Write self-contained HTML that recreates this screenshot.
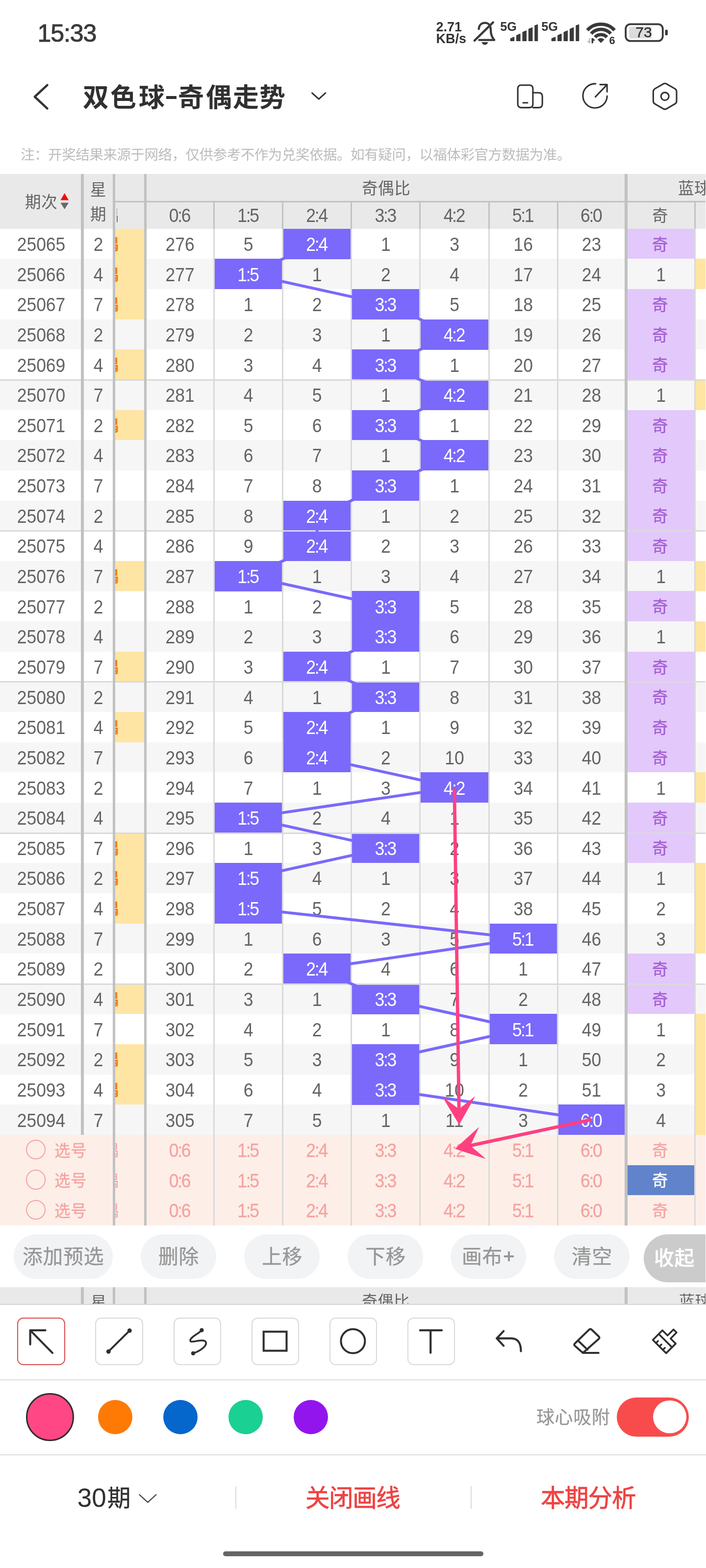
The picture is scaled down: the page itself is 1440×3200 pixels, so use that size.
<!DOCTYPE html>
<html lang="zh"><head><meta charset="utf-8"><title>双色球-奇偶走势</title>
<style>
html,body{margin:0;padding:0;}
body{width:1440px;height:3200px;position:relative;overflow:hidden;background:#fff;font-family:"Liberation Sans",sans-serif;color:#646464;}
.b{position:absolute;}
.k{position:absolute;overflow:visible;display:block;}
.k text{font-family:"Liberation Sans","Noto Sans CJK SC",sans-serif;}
.t{position:absolute;white-space:nowrap;text-align:center;}
.row{position:absolute;left:0;width:1440px;height:61.64px;line-height:61.64px;font-size:35.5px;color:#646464;}
.row i{position:absolute;top:2.2px;transform:scaleY(1.07);height:100%;font-style:normal;text-align:center;white-space:nowrap;}
.ov{position:absolute;left:0;top:0;width:1440px;height:3200px;overflow:visible;pointer-events:none;}
.row b,.t b{font-weight:normal;margin:0 -2.3px;}
#app{position:absolute;left:0;top:0;width:1440px;height:3200px;overflow:hidden;will-change:transform;}
</style></head>
<body>
<div id="app">
<!-- status bar -->
<div class="t" style="left:76.5px;top:43.17px;font-size:50px;line-height:50px;color:#3a3a3a;-webkit-text-stroke:1px #3a3a3a;letter-spacing:-1.1px;">15:33</div>
<div class="t" style="left:889.5px;top:42.34px;font-size:27px;line-height:27px;color:#333;font-weight:bold;">2.71</div>
<div class="t" style="left:889.5px;top:66.14px;font-size:27px;line-height:27px;color:#333;font-weight:bold;">KB/s</div>
<svg class="k" style="left:0px;top:0px;width:1440px;height:120px;" viewBox="0 0 1440 120"><g fill="none" stroke="#3a3a3a" stroke-width="4.4" stroke-linecap="round" stroke-linejoin="round"><path d="M977.5 81.6 H1008.2 C1003.2 76 1001 70.5 1001 62 C1001 51.5 996 46.6 989 46.6 C982 46.6 977.2 51.5 976.6 59"/><path d="M1005.7 45.6 L967.8 82.9"/></g><path d="M982.2 86 H995.6 Q993.5 91.6 988.9 91.6 Q984.3 91.6 982.2 86 Z" fill="#3a3a3a"/></svg>
<div class="t" style="left:1020.3px;top:42.07px;font-size:25.2px;line-height:25.2px;color:#333;font-weight:bold;">5G</div>
<div class="t" style="left:1104.3px;top:42.07px;font-size:25.2px;line-height:25.2px;color:#333;font-weight:bold;">5G</div>
<svg class="k" style="left:0px;top:0px;width:1440px;height:120px;" viewBox="0 0 1440 120"><g fill="#3a3a3a" stroke="#3a3a3a" stroke-width="1.4" stroke-linejoin="round"><path d="M1041.3 83.2 L1041.3 78.8 L1048.5 75.8 L1048.5 83.2 Z"/><path d="M1053.7 83.2 L1053.7 72.3 L1060.9 69.3 L1060.9 83.2 Z"/><path d="M1066.1 83.2 L1066.1 65.8 L1073.3 62.8 L1073.3 83.2 Z"/><path d="M1078.5 83.2 L1078.5 59.4 L1085.7 56.4 L1085.7 83.2 Z"/><path d="M1090.9 83.2 L1090.9 52.5 L1096.5 50.5 L1096.5 83.2 Z"/></g><g fill="#3a3a3a" stroke="#3a3a3a" stroke-width="1.4" stroke-linejoin="round"><path d="M1125.4 83.2 L1125.4 78.8 L1132.6 75.8 L1132.6 83.2 Z"/><path d="M1137.8 83.2 L1137.8 72.3 L1145 69.3 L1145 83.2 Z"/><path d="M1150.2 83.2 L1150.2 65.8 L1157.4 62.8 L1157.4 83.2 Z"/><path d="M1162.6 83.2 L1162.6 59.4 L1169.8 56.4 L1169.8 83.2 Z"/><path d="M1175 83.2 L1175 52.5 L1180.6 50.5 L1180.6 83.2 Z"/></g></svg>
<svg class="k" style="left:0px;top:0px;width:1440px;height:120px;" viewBox="0 0 1440 120"><g fill="none" stroke="#3a3a3a" stroke-width="6.9" stroke-linecap="butt"><path d="M1197.98 61.6 A37.6 37.6 0 0 1 1253.42 61.6"/><path d="M1205.72 68.69 A27.1 27.1 0 0 1 1245.68 68.69"/><path d="M1213.61 75.92 A16.4 16.4 0 0 1 1237.79 75.92"/></g><path d="M1225.7 86.4 L1220.1 80.8 Q1225.7 76.6 1231.3 80.8 Z" fill="#3a3a3a" stroke="#3a3a3a" stroke-width="2" stroke-linejoin="round"/><path d="M1201.4 78 H1203.9 V88.3 H1201.6 L1196.9 83.5 H1201.4 Z" fill="#b9b9b9"/><path d="M1206.6 88.3 V77.8 H1209.4 L1214 82.2 L1210 83.6 V88.3 Z" fill="#3a3a3a"/></svg>
<div class="t" style="left:1242.4px;top:71.75px;font-size:21.8px;line-height:21.8px;color:#333;font-weight:bold;">6</div>
<svg class="k" style="left:0px;top:0px;width:1440px;height:120px;" viewBox="0 0 1440 120"><rect x="1276.2" y="49.4" width="75.6" height="34.2" rx="9.5" fill="#fff" stroke="#3a3a3a" stroke-width="3.8"/><path d="M1286.9 54.4 H1329 V78.4 H1286.9 Q1282.9 78.4 1282.9 74.4 V58.4 Q1282.9 54.4 1286.9 54.4 Z" fill="#dcdcdc"/><rect x="1356.5" y="60.4" width="5.4" height="11.8" rx="2.6" fill="#3a3a3a"/></svg>
<div class="t" style="left:1113px;width:400px;text-align:center;top:51.41px;font-size:30px;line-height:30px;color:#333;-webkit-text-stroke:0.5px #333;">73</div>
<!-- title bar -->
<svg class="k" style="left:0px;top:130px;width:1440px;height:120px;" viewBox="0 130 1440 120"><g fill="none" stroke="#333" stroke-linecap="round" stroke-linejoin="round"><path d="M96.4 173.6 L70.8 197.5 L96.4 221.4" stroke-width="4.6"/><path d="M636.6 189.9 L650.2 202.2 L663.8 189.9" stroke-width="3.1"/><g stroke-width="3.1"><rect x="1056.1" y="173.8" width="30.8" height="45.8" rx="6.5"/><path d="M1066.9 209.7 H1076"/><path d="M1087 189.2 H1098.5 Q1106.2 189.2 1106.2 196.9 V211.9 Q1106.2 219.6 1098.5 219.6 H1087"/><path d="M1214.8 170.9 A24.7 24.7 0 1 0 1238.3 196"/><path d="M1214.4 197.6 L1237.6 173.4 M1224 172.6 H1238.2 V187.2"/><path d="M1352.7 171.3 Q1356.2 169.3 1359.7 171.3 L1376.5 181 Q1380 183 1380 187 V206.2 Q1380 210.2 1376.5 212.2 L1359.7 221.9 Q1356.2 223.9 1352.7 221.9 L1335.9 212.2 Q1332.4 210.2 1332.4 206.2 V187 Q1332.4 183 1335.9 181 Z"/><circle cx="1356.2" cy="196.6" r="8"/></g></g></svg>
<svg class="k" style="left:168.7px;top:171.2px;width:53px;height:53px;fill:#303030;"><text x="0" y="46.64" font-size="53" font-weight="bold">双</text></svg>
<svg class="k" style="left:225.4px;top:171.2px;width:53px;height:53px;fill:#303030;"><text x="0" y="46.64" font-size="53" font-weight="bold">色</text></svg>
<svg class="k" style="left:282.6px;top:171.2px;width:53px;height:53px;fill:#303030;"><text x="0" y="46.64" font-size="53" font-weight="bold">球</text></svg>
<svg class="k" style="left:363.3px;top:171.2px;width:53px;height:53px;fill:#303030;"><text x="0" y="46.64" font-size="53" font-weight="bold">奇</text></svg>
<svg class="k" style="left:419.5px;top:171.2px;width:53px;height:53px;fill:#303030;"><text x="0" y="46.64" font-size="53" font-weight="bold">偶</text></svg>
<svg class="k" style="left:474.5px;top:171.2px;width:53px;height:53px;fill:#303030;"><text x="0" y="46.64" font-size="53" font-weight="bold">走</text></svg>
<svg class="k" style="left:529px;top:171.2px;width:53px;height:53px;fill:#303030;"><text x="0" y="46.64" font-size="53" font-weight="bold">势</text></svg>
<div class="b" style="left:339.3px;top:195.6px;width:20.8px;height:6.2px;background:#303030;"></div>
<svg class="k" style="left:42.3px;top:300.6px;width:1122.55px;height:28.6px;fill:#bcbcbc;"><text x="0" y="25.17" font-size="28.6" letter-spacing="-0.55">注：开奖结果来源于网络，仅供参考不作为兑奖依据。如有疑问，以福体彩官方数据为准。</text></svg>
<!-- table -->
<div class="b" style="left:0px;top:355.2px;width:1440px;height:111.6px;background:#e9e9e9;"></div>
<div class="b" style="left:0px;top:528.44px;width:1440px;height:61.74px;background:#f6f6f6;"></div>
<div class="b" style="left:0px;top:651.72px;width:1440px;height:61.74px;background:#f6f6f6;"></div>
<div class="b" style="left:0px;top:775px;width:1440px;height:61.74px;background:#f6f6f6;"></div>
<div class="b" style="left:0px;top:898.28px;width:1440px;height:61.74px;background:#f6f6f6;"></div>
<div class="b" style="left:0px;top:1021.56px;width:1440px;height:61.74px;background:#f6f6f6;"></div>
<div class="b" style="left:0px;top:1144.84px;width:1440px;height:61.74px;background:#f6f6f6;"></div>
<div class="b" style="left:0px;top:1268.12px;width:1440px;height:61.74px;background:#f6f6f6;"></div>
<div class="b" style="left:0px;top:1391.4px;width:1440px;height:61.74px;background:#f6f6f6;"></div>
<div class="b" style="left:0px;top:1514.68px;width:1440px;height:61.74px;background:#f6f6f6;"></div>
<div class="b" style="left:0px;top:1637.96px;width:1440px;height:61.74px;background:#f6f6f6;"></div>
<div class="b" style="left:0px;top:1761.24px;width:1440px;height:61.74px;background:#f6f6f6;"></div>
<div class="b" style="left:0px;top:1884.52px;width:1440px;height:61.74px;background:#f6f6f6;"></div>
<div class="b" style="left:0px;top:2007.8px;width:1440px;height:61.74px;background:#f6f6f6;"></div>
<div class="b" style="left:0px;top:2131.08px;width:1440px;height:61.74px;background:#f6f6f6;"></div>
<div class="b" style="left:0px;top:2254.36px;width:1440px;height:61.74px;background:#f6f6f6;"></div>
<div class="b" style="left:0px;top:2315.8px;width:1440px;height:184.89px;background:#fdefe8;"></div>
<div class="b" style="left:235px;top:466.8px;width:58.9px;height:184.92px;background:#ffe5a3;"></div>
<div class="b" style="left:235px;top:713.36px;width:58.9px;height:61.64px;background:#ffe5a3;"></div>
<div class="b" style="left:235px;top:836.64px;width:58.9px;height:61.64px;background:#ffe5a3;"></div>
<div class="b" style="left:235px;top:1144.84px;width:58.9px;height:61.64px;background:#ffe5a3;"></div>
<div class="b" style="left:235px;top:1329.76px;width:58.9px;height:61.64px;background:#ffe5a3;"></div>
<div class="b" style="left:235px;top:1453.04px;width:58.9px;height:61.64px;background:#ffe5a3;"></div>
<div class="b" style="left:235px;top:1699.6px;width:58.9px;height:184.92px;background:#ffe5a3;"></div>
<div class="b" style="left:235px;top:2007.8px;width:58.9px;height:61.64px;background:#ffe5a3;"></div>
<div class="b" style="left:235px;top:2131.08px;width:58.9px;height:123.28px;background:#ffe5a3;"></div>
<div class="b" style="left:1418.9px;top:528.44px;width:21.1px;height:61.64px;background:#ffe5a3;"></div>
<div class="b" style="left:1418.9px;top:775px;width:21.1px;height:61.64px;background:#ffe5a3;"></div>
<div class="b" style="left:1418.9px;top:1144.84px;width:21.1px;height:61.64px;background:#ffe5a3;"></div>
<div class="b" style="left:1418.9px;top:1268.12px;width:21.1px;height:61.64px;background:#ffe5a3;"></div>
<div class="b" style="left:1418.9px;top:1576.32px;width:21.1px;height:61.64px;background:#ffe5a3;"></div>
<div class="b" style="left:1418.9px;top:1761.24px;width:21.1px;height:184.92px;background:#ffe5a3;"></div>
<div class="b" style="left:1418.9px;top:2069.44px;width:21.1px;height:246.56px;background:#ffe5a3;"></div>
<div class="b" style="left:1280px;top:466.8px;width:136px;height:61.64px;background:#e3c8fb;"></div>
<div class="b" style="left:1280px;top:590.08px;width:136px;height:184.92px;background:#e3c8fb;"></div>
<div class="b" style="left:1280px;top:836.64px;width:136px;height:308.2px;background:#e3c8fb;"></div>
<div class="b" style="left:1280px;top:1206.48px;width:136px;height:61.64px;background:#e3c8fb;"></div>
<div class="b" style="left:1280px;top:1329.76px;width:136px;height:246.56px;background:#e3c8fb;"></div>
<div class="b" style="left:1280px;top:1637.96px;width:136px;height:123.28px;background:#e3c8fb;"></div>
<div class="b" style="left:1280px;top:1946.16px;width:136px;height:123.28px;background:#e3c8fb;"></div>
<div class="b" style="left:578.16px;top:466.8px;width:137.16px;height:61.79px;background:#7a69fb;"></div>
<div class="b" style="left:438px;top:528.44px;width:137.16px;height:61.79px;background:#7a69fb;"></div>
<div class="b" style="left:718.32px;top:590.08px;width:137.16px;height:61.79px;background:#7a69fb;"></div>
<div class="b" style="left:858.48px;top:651.72px;width:137.16px;height:61.79px;background:#7a69fb;"></div>
<div class="b" style="left:718.32px;top:713.36px;width:137.16px;height:61.79px;background:#7a69fb;"></div>
<div class="b" style="left:858.48px;top:775px;width:137.16px;height:61.79px;background:#7a69fb;"></div>
<div class="b" style="left:718.32px;top:836.64px;width:137.16px;height:61.79px;background:#7a69fb;"></div>
<div class="b" style="left:858.48px;top:898.28px;width:137.16px;height:61.79px;background:#7a69fb;"></div>
<div class="b" style="left:718.32px;top:959.92px;width:137.16px;height:61.79px;background:#7a69fb;"></div>
<div class="b" style="left:578.16px;top:1021.56px;width:137.16px;height:61.79px;background:#7a69fb;"></div>
<div class="b" style="left:578.16px;top:1083.2px;width:137.16px;height:61.79px;background:#7a69fb;"></div>
<div class="b" style="left:438px;top:1144.84px;width:137.16px;height:61.79px;background:#7a69fb;"></div>
<div class="b" style="left:718.32px;top:1206.48px;width:137.16px;height:61.79px;background:#7a69fb;"></div>
<div class="b" style="left:718.32px;top:1268.12px;width:137.16px;height:61.79px;background:#7a69fb;"></div>
<div class="b" style="left:578.16px;top:1329.76px;width:137.16px;height:61.79px;background:#7a69fb;"></div>
<div class="b" style="left:718.32px;top:1391.4px;width:137.16px;height:61.79px;background:#7a69fb;"></div>
<div class="b" style="left:578.16px;top:1453.04px;width:137.16px;height:61.79px;background:#7a69fb;"></div>
<div class="b" style="left:578.16px;top:1514.68px;width:137.16px;height:61.79px;background:#7a69fb;"></div>
<div class="b" style="left:858.48px;top:1576.32px;width:137.16px;height:61.79px;background:#7a69fb;"></div>
<div class="b" style="left:438px;top:1637.96px;width:137.16px;height:61.79px;background:#7a69fb;"></div>
<div class="b" style="left:718.32px;top:1699.6px;width:137.16px;height:61.79px;background:#7a69fb;"></div>
<div class="b" style="left:438px;top:1761.24px;width:137.16px;height:61.79px;background:#7a69fb;"></div>
<div class="b" style="left:438px;top:1822.88px;width:137.16px;height:61.79px;background:#7a69fb;"></div>
<div class="b" style="left:998.64px;top:1884.52px;width:137.16px;height:61.79px;background:#7a69fb;"></div>
<div class="b" style="left:578.16px;top:1946.16px;width:137.16px;height:61.79px;background:#7a69fb;"></div>
<div class="b" style="left:718.32px;top:2007.8px;width:137.16px;height:61.79px;background:#7a69fb;"></div>
<div class="b" style="left:998.64px;top:2069.44px;width:137.16px;height:61.79px;background:#7a69fb;"></div>
<div class="b" style="left:718.32px;top:2131.08px;width:137.16px;height:61.79px;background:#7a69fb;"></div>
<div class="b" style="left:718.32px;top:2192.72px;width:137.16px;height:61.79px;background:#7a69fb;"></div>
<div class="b" style="left:1138.8px;top:2254.36px;width:135.3px;height:61.79px;background:#7a69fb;"></div>
<div class="b" style="left:0px;top:773.9px;width:1440px;height:3px;background:#dadada;"></div>
<div class="b" style="left:0px;top:1082.1px;width:1440px;height:3px;background:#dadada;"></div>
<div class="b" style="left:0px;top:1390.3px;width:1440px;height:3px;background:#dadada;"></div>
<div class="b" style="left:0px;top:1698.5px;width:1440px;height:3px;background:#dadada;"></div>
<div class="b" style="left:0px;top:2006.7px;width:1440px;height:3px;background:#dadada;"></div>
<div class="b" style="left:235px;top:409.8px;width:1205px;height:2.8px;background:#c1c1c1;"></div>
<div class="b" style="left:435px;top:411.2px;width:3px;height:55.6px;background:#c2c2c2;"></div>
<div class="b" style="left:435px;top:466.8px;width:3px;height:2033.89px;background:#dadada;"></div>
<div class="b" style="left:575.16px;top:411.2px;width:3px;height:55.6px;background:#c2c2c2;"></div>
<div class="b" style="left:575.16px;top:466.8px;width:3px;height:2033.89px;background:#dadada;"></div>
<div class="b" style="left:715.32px;top:411.2px;width:3px;height:55.6px;background:#c2c2c2;"></div>
<div class="b" style="left:715.32px;top:466.8px;width:3px;height:2033.89px;background:#dadada;"></div>
<div class="b" style="left:855.48px;top:411.2px;width:3px;height:55.6px;background:#c2c2c2;"></div>
<div class="b" style="left:855.48px;top:466.8px;width:3px;height:2033.89px;background:#dadada;"></div>
<div class="b" style="left:995.64px;top:411.2px;width:3px;height:55.6px;background:#c2c2c2;"></div>
<div class="b" style="left:995.64px;top:466.8px;width:3px;height:2033.89px;background:#dadada;"></div>
<div class="b" style="left:1135.8px;top:411.2px;width:3px;height:55.6px;background:#c2c2c2;"></div>
<div class="b" style="left:1135.8px;top:466.8px;width:3px;height:2033.89px;background:#dadada;"></div>
<div class="b" style="left:1416px;top:411.2px;width:2.9px;height:55.6px;background:#c2c2c2;"></div>
<div class="b" style="left:1416px;top:466.8px;width:2.9px;height:2033.89px;background:#dadada;"></div>
<div class="b" style="left:578.16px;top:1082.1px;width:137.16px;height:3px;background:#dad6fb;"></div>
<svg class="k" style="left:51.2px;top:395px;width:65.8px;height:32.6px;fill:#646464;"><text x="0" y="28.69" font-size="32.6" letter-spacing="0.6">期次</text></svg>
<svg class="k" style="left:122px;top:394px;width:20px;height:36px" viewBox="0 0 20 36"><path d="M9.7 0.2 L18.1 14.4 H1.4 Z" fill="#fb0505"/><path d="M9.7 33 L18.1 19.7 H1.4 Z" fill="#686868"/></svg>
<svg class="k" style="left:183.7px;top:369.5px;width:32.6px;height:32.6px;fill:#646464;"><text x="0" y="28.69" font-size="32.6">星</text></svg>
<svg class="k" style="left:183.9px;top:420px;width:32.6px;height:32.6px;fill:#646464;"><text x="0" y="28.69" font-size="32.6">期</text></svg>
<svg class="k" style="left:737.65px;top:367.05px;width:98.7px;height:32.5px;fill:#646464;"><text x="0" y="28.6" font-size="32.5" letter-spacing="0.6">奇偶比</text></svg>
<svg class="k" style="left:1383.3px;top:367.05px;width:65.6px;height:32.5px;fill:#646464;"><text x="0" y="28.6" font-size="32.5" letter-spacing="0.6">蓝球</text></svg>
<svg class="k" style="left:1330.35px;top:422.95px;width:32.5px;height:32.5px;fill:#646464;"><text x="0" y="28.6" font-size="32.5">奇</text></svg>
<div class="b" style="left:238.2px;top:412.6px;width:20px;height:54.2px;overflow:hidden"><svg class="k" style="left:-27.8px;top:10.6px;width:32px;height:32px;fill:#787878;"><text x="0" y="28.16" font-size="32">偶</text></svg></div>
<div class="row" style="top:410.9px;height:54.2px;line-height:54.2px;font-size:35.5px"><i style="left:299.35px;width:135.65px">0<b>:</b>6</i><i style="left:438px;width:137.16px">1<b>:</b>5</i><i style="left:578.16px;width:137.16px">2<b>:</b>4</i><i style="left:718.32px;width:137.16px">3<b>:</b>3</i><i style="left:858.48px;width:137.16px">4<b>:</b>2</i><i style="left:998.64px;width:137.16px">5<b>:</b>1</i><i style="left:1138.8px;width:135.3px">6<b>:</b>0</i></div>
<div class="row" style="top:466.8px"><i style="left:1px;width:166px">25065</i><i style="left:171px;width:59px">2</i><i style="left:299.35px;width:135.65px">276</i><i style="left:438px;width:137.16px">5</i><i style="left:718.32px;width:137.16px">1</i><i style="left:858.48px;width:137.16px">3</i><i style="left:998.64px;width:137.16px">16</i><i style="left:1138.8px;width:135.3px">23</i></div>
<svg class="k" style="left:1330.35px;top:481.67px;width:32.5px;height:32.5px;fill:#a25cd2;stroke:#a25cd2;stroke-width:0.26;"><text x="0" y="28.6" font-size="32.5">奇</text></svg>
<div class="b" style="left:235px;top:466.8px;width:58.9px;height:61.64px;overflow:hidden"><svg class="k" style="left:-25px;top:15.12px;width:32px;height:32px;fill:#f07d1a;"><text x="0" y="28.16" font-size="32" font-weight="bold">偶</text></svg></div>
<div class="row" style="top:528.44px"><i style="left:1px;width:166px">25066</i><i style="left:171px;width:59px">4</i><i style="left:299.35px;width:135.65px">277</i><i style="left:578.16px;width:137.16px">1</i><i style="left:718.32px;width:137.16px">2</i><i style="left:858.48px;width:137.16px">4</i><i style="left:998.64px;width:137.16px">17</i><i style="left:1138.8px;width:135.3px">24</i><i style="left:1280px;width:136px">1</i></div>
<div class="b" style="left:235px;top:528.44px;width:58.9px;height:61.64px;overflow:hidden"><svg class="k" style="left:-25px;top:15.12px;width:32px;height:32px;fill:#f07d1a;"><text x="0" y="28.16" font-size="32" font-weight="bold">偶</text></svg></div>
<div class="row" style="top:590.08px"><i style="left:1px;width:166px">25067</i><i style="left:171px;width:59px">7</i><i style="left:299.35px;width:135.65px">278</i><i style="left:438px;width:137.16px">1</i><i style="left:578.16px;width:137.16px">2</i><i style="left:858.48px;width:137.16px">5</i><i style="left:998.64px;width:137.16px">18</i><i style="left:1138.8px;width:135.3px">25</i></div>
<svg class="k" style="left:1330.35px;top:604.95px;width:32.5px;height:32.5px;fill:#a25cd2;stroke:#a25cd2;stroke-width:0.26;"><text x="0" y="28.6" font-size="32.5">奇</text></svg>
<div class="b" style="left:235px;top:590.08px;width:58.9px;height:61.64px;overflow:hidden"><svg class="k" style="left:-25px;top:15.12px;width:32px;height:32px;fill:#f07d1a;"><text x="0" y="28.16" font-size="32" font-weight="bold">偶</text></svg></div>
<div class="row" style="top:651.72px"><i style="left:1px;width:166px">25068</i><i style="left:171px;width:59px">2</i><i style="left:299.35px;width:135.65px">279</i><i style="left:438px;width:137.16px">2</i><i style="left:578.16px;width:137.16px">3</i><i style="left:718.32px;width:137.16px">1</i><i style="left:998.64px;width:137.16px">19</i><i style="left:1138.8px;width:135.3px">26</i></div>
<svg class="k" style="left:1330.35px;top:666.59px;width:32.5px;height:32.5px;fill:#a25cd2;stroke:#a25cd2;stroke-width:0.26;"><text x="0" y="28.6" font-size="32.5">奇</text></svg>
<div class="row" style="top:713.36px"><i style="left:1px;width:166px">25069</i><i style="left:171px;width:59px">4</i><i style="left:299.35px;width:135.65px">280</i><i style="left:438px;width:137.16px">3</i><i style="left:578.16px;width:137.16px">4</i><i style="left:858.48px;width:137.16px">1</i><i style="left:998.64px;width:137.16px">20</i><i style="left:1138.8px;width:135.3px">27</i></div>
<svg class="k" style="left:1330.35px;top:728.23px;width:32.5px;height:32.5px;fill:#a25cd2;stroke:#a25cd2;stroke-width:0.26;"><text x="0" y="28.6" font-size="32.5">奇</text></svg>
<div class="b" style="left:235px;top:713.36px;width:58.9px;height:61.64px;overflow:hidden"><svg class="k" style="left:-25px;top:15.12px;width:32px;height:32px;fill:#f07d1a;"><text x="0" y="28.16" font-size="32" font-weight="bold">偶</text></svg></div>
<div class="row" style="top:775px"><i style="left:1px;width:166px">25070</i><i style="left:171px;width:59px">7</i><i style="left:299.35px;width:135.65px">281</i><i style="left:438px;width:137.16px">4</i><i style="left:578.16px;width:137.16px">5</i><i style="left:718.32px;width:137.16px">1</i><i style="left:998.64px;width:137.16px">21</i><i style="left:1138.8px;width:135.3px">28</i><i style="left:1280px;width:136px">1</i></div>
<div class="row" style="top:836.64px"><i style="left:1px;width:166px">25071</i><i style="left:171px;width:59px">2</i><i style="left:299.35px;width:135.65px">282</i><i style="left:438px;width:137.16px">5</i><i style="left:578.16px;width:137.16px">6</i><i style="left:858.48px;width:137.16px">1</i><i style="left:998.64px;width:137.16px">22</i><i style="left:1138.8px;width:135.3px">29</i></div>
<svg class="k" style="left:1330.35px;top:851.51px;width:32.5px;height:32.5px;fill:#a25cd2;stroke:#a25cd2;stroke-width:0.26;"><text x="0" y="28.6" font-size="32.5">奇</text></svg>
<div class="b" style="left:235px;top:836.64px;width:58.9px;height:61.64px;overflow:hidden"><svg class="k" style="left:-25px;top:15.12px;width:32px;height:32px;fill:#f07d1a;"><text x="0" y="28.16" font-size="32" font-weight="bold">偶</text></svg></div>
<div class="row" style="top:898.28px"><i style="left:1px;width:166px">25072</i><i style="left:171px;width:59px">4</i><i style="left:299.35px;width:135.65px">283</i><i style="left:438px;width:137.16px">6</i><i style="left:578.16px;width:137.16px">7</i><i style="left:718.32px;width:137.16px">1</i><i style="left:998.64px;width:137.16px">23</i><i style="left:1138.8px;width:135.3px">30</i></div>
<svg class="k" style="left:1330.35px;top:913.15px;width:32.5px;height:32.5px;fill:#a25cd2;stroke:#a25cd2;stroke-width:0.26;"><text x="0" y="28.6" font-size="32.5">奇</text></svg>
<div class="row" style="top:959.92px"><i style="left:1px;width:166px">25073</i><i style="left:171px;width:59px">7</i><i style="left:299.35px;width:135.65px">284</i><i style="left:438px;width:137.16px">7</i><i style="left:578.16px;width:137.16px">8</i><i style="left:858.48px;width:137.16px">1</i><i style="left:998.64px;width:137.16px">24</i><i style="left:1138.8px;width:135.3px">31</i></div>
<svg class="k" style="left:1330.35px;top:974.79px;width:32.5px;height:32.5px;fill:#a25cd2;stroke:#a25cd2;stroke-width:0.26;"><text x="0" y="28.6" font-size="32.5">奇</text></svg>
<div class="row" style="top:1021.56px"><i style="left:1px;width:166px">25074</i><i style="left:171px;width:59px">2</i><i style="left:299.35px;width:135.65px">285</i><i style="left:438px;width:137.16px">8</i><i style="left:718.32px;width:137.16px">1</i><i style="left:858.48px;width:137.16px">2</i><i style="left:998.64px;width:137.16px">25</i><i style="left:1138.8px;width:135.3px">32</i></div>
<svg class="k" style="left:1330.35px;top:1036.43px;width:32.5px;height:32.5px;fill:#a25cd2;stroke:#a25cd2;stroke-width:0.26;"><text x="0" y="28.6" font-size="32.5">奇</text></svg>
<div class="row" style="top:1083.2px"><i style="left:1px;width:166px">25075</i><i style="left:171px;width:59px">4</i><i style="left:299.35px;width:135.65px">286</i><i style="left:438px;width:137.16px">9</i><i style="left:718.32px;width:137.16px">2</i><i style="left:858.48px;width:137.16px">3</i><i style="left:998.64px;width:137.16px">26</i><i style="left:1138.8px;width:135.3px">33</i></div>
<svg class="k" style="left:1330.35px;top:1098.07px;width:32.5px;height:32.5px;fill:#a25cd2;stroke:#a25cd2;stroke-width:0.26;"><text x="0" y="28.6" font-size="32.5">奇</text></svg>
<div class="row" style="top:1144.84px"><i style="left:1px;width:166px">25076</i><i style="left:171px;width:59px">7</i><i style="left:299.35px;width:135.65px">287</i><i style="left:578.16px;width:137.16px">1</i><i style="left:718.32px;width:137.16px">3</i><i style="left:858.48px;width:137.16px">4</i><i style="left:998.64px;width:137.16px">27</i><i style="left:1138.8px;width:135.3px">34</i><i style="left:1280px;width:136px">1</i></div>
<div class="b" style="left:235px;top:1144.84px;width:58.9px;height:61.64px;overflow:hidden"><svg class="k" style="left:-25px;top:15.12px;width:32px;height:32px;fill:#f07d1a;"><text x="0" y="28.16" font-size="32" font-weight="bold">偶</text></svg></div>
<div class="row" style="top:1206.48px"><i style="left:1px;width:166px">25077</i><i style="left:171px;width:59px">2</i><i style="left:299.35px;width:135.65px">288</i><i style="left:438px;width:137.16px">1</i><i style="left:578.16px;width:137.16px">2</i><i style="left:858.48px;width:137.16px">5</i><i style="left:998.64px;width:137.16px">28</i><i style="left:1138.8px;width:135.3px">35</i></div>
<svg class="k" style="left:1330.35px;top:1221.35px;width:32.5px;height:32.5px;fill:#a25cd2;stroke:#a25cd2;stroke-width:0.26;"><text x="0" y="28.6" font-size="32.5">奇</text></svg>
<div class="row" style="top:1268.12px"><i style="left:1px;width:166px">25078</i><i style="left:171px;width:59px">4</i><i style="left:299.35px;width:135.65px">289</i><i style="left:438px;width:137.16px">2</i><i style="left:578.16px;width:137.16px">3</i><i style="left:858.48px;width:137.16px">6</i><i style="left:998.64px;width:137.16px">29</i><i style="left:1138.8px;width:135.3px">36</i><i style="left:1280px;width:136px">1</i></div>
<div class="row" style="top:1329.76px"><i style="left:1px;width:166px">25079</i><i style="left:171px;width:59px">7</i><i style="left:299.35px;width:135.65px">290</i><i style="left:438px;width:137.16px">3</i><i style="left:718.32px;width:137.16px">1</i><i style="left:858.48px;width:137.16px">7</i><i style="left:998.64px;width:137.16px">30</i><i style="left:1138.8px;width:135.3px">37</i></div>
<svg class="k" style="left:1330.35px;top:1344.63px;width:32.5px;height:32.5px;fill:#a25cd2;stroke:#a25cd2;stroke-width:0.26;"><text x="0" y="28.6" font-size="32.5">奇</text></svg>
<div class="b" style="left:235px;top:1329.76px;width:58.9px;height:61.64px;overflow:hidden"><svg class="k" style="left:-25px;top:15.12px;width:32px;height:32px;fill:#f07d1a;"><text x="0" y="28.16" font-size="32" font-weight="bold">偶</text></svg></div>
<div class="row" style="top:1391.4px"><i style="left:1px;width:166px">25080</i><i style="left:171px;width:59px">2</i><i style="left:299.35px;width:135.65px">291</i><i style="left:438px;width:137.16px">4</i><i style="left:578.16px;width:137.16px">1</i><i style="left:858.48px;width:137.16px">8</i><i style="left:998.64px;width:137.16px">31</i><i style="left:1138.8px;width:135.3px">38</i></div>
<svg class="k" style="left:1330.35px;top:1406.27px;width:32.5px;height:32.5px;fill:#a25cd2;stroke:#a25cd2;stroke-width:0.26;"><text x="0" y="28.6" font-size="32.5">奇</text></svg>
<div class="row" style="top:1453.04px"><i style="left:1px;width:166px">25081</i><i style="left:171px;width:59px">4</i><i style="left:299.35px;width:135.65px">292</i><i style="left:438px;width:137.16px">5</i><i style="left:718.32px;width:137.16px">1</i><i style="left:858.48px;width:137.16px">9</i><i style="left:998.64px;width:137.16px">32</i><i style="left:1138.8px;width:135.3px">39</i></div>
<svg class="k" style="left:1330.35px;top:1467.91px;width:32.5px;height:32.5px;fill:#a25cd2;stroke:#a25cd2;stroke-width:0.26;"><text x="0" y="28.6" font-size="32.5">奇</text></svg>
<div class="b" style="left:235px;top:1453.04px;width:58.9px;height:61.64px;overflow:hidden"><svg class="k" style="left:-25px;top:15.12px;width:32px;height:32px;fill:#f07d1a;"><text x="0" y="28.16" font-size="32" font-weight="bold">偶</text></svg></div>
<div class="row" style="top:1514.68px"><i style="left:1px;width:166px">25082</i><i style="left:171px;width:59px">7</i><i style="left:299.35px;width:135.65px">293</i><i style="left:438px;width:137.16px">6</i><i style="left:718.32px;width:137.16px">2</i><i style="left:858.48px;width:137.16px">10</i><i style="left:998.64px;width:137.16px">33</i><i style="left:1138.8px;width:135.3px">40</i></div>
<svg class="k" style="left:1330.35px;top:1529.55px;width:32.5px;height:32.5px;fill:#a25cd2;stroke:#a25cd2;stroke-width:0.26;"><text x="0" y="28.6" font-size="32.5">奇</text></svg>
<div class="row" style="top:1576.32px"><i style="left:1px;width:166px">25083</i><i style="left:171px;width:59px">2</i><i style="left:299.35px;width:135.65px">294</i><i style="left:438px;width:137.16px">7</i><i style="left:578.16px;width:137.16px">1</i><i style="left:718.32px;width:137.16px">3</i><i style="left:998.64px;width:137.16px">34</i><i style="left:1138.8px;width:135.3px">41</i><i style="left:1280px;width:136px">1</i></div>
<div class="row" style="top:1637.96px"><i style="left:1px;width:166px">25084</i><i style="left:171px;width:59px">4</i><i style="left:299.35px;width:135.65px">295</i><i style="left:578.16px;width:137.16px">2</i><i style="left:718.32px;width:137.16px">4</i><i style="left:858.48px;width:137.16px">1</i><i style="left:998.64px;width:137.16px">35</i><i style="left:1138.8px;width:135.3px">42</i></div>
<svg class="k" style="left:1330.35px;top:1652.83px;width:32.5px;height:32.5px;fill:#a25cd2;stroke:#a25cd2;stroke-width:0.26;"><text x="0" y="28.6" font-size="32.5">奇</text></svg>
<div class="row" style="top:1699.6px"><i style="left:1px;width:166px">25085</i><i style="left:171px;width:59px">7</i><i style="left:299.35px;width:135.65px">296</i><i style="left:438px;width:137.16px">1</i><i style="left:578.16px;width:137.16px">3</i><i style="left:858.48px;width:137.16px">2</i><i style="left:998.64px;width:137.16px">36</i><i style="left:1138.8px;width:135.3px">43</i></div>
<svg class="k" style="left:1330.35px;top:1714.47px;width:32.5px;height:32.5px;fill:#a25cd2;stroke:#a25cd2;stroke-width:0.26;"><text x="0" y="28.6" font-size="32.5">奇</text></svg>
<div class="b" style="left:235px;top:1699.6px;width:58.9px;height:61.64px;overflow:hidden"><svg class="k" style="left:-25px;top:15.12px;width:32px;height:32px;fill:#f07d1a;"><text x="0" y="28.16" font-size="32" font-weight="bold">偶</text></svg></div>
<div class="row" style="top:1761.24px"><i style="left:1px;width:166px">25086</i><i style="left:171px;width:59px">2</i><i style="left:299.35px;width:135.65px">297</i><i style="left:578.16px;width:137.16px">4</i><i style="left:718.32px;width:137.16px">1</i><i style="left:858.48px;width:137.16px">3</i><i style="left:998.64px;width:137.16px">37</i><i style="left:1138.8px;width:135.3px">44</i><i style="left:1280px;width:136px">1</i></div>
<div class="b" style="left:235px;top:1761.24px;width:58.9px;height:61.64px;overflow:hidden"><svg class="k" style="left:-25px;top:15.12px;width:32px;height:32px;fill:#f07d1a;"><text x="0" y="28.16" font-size="32" font-weight="bold">偶</text></svg></div>
<div class="row" style="top:1822.88px"><i style="left:1px;width:166px">25087</i><i style="left:171px;width:59px">4</i><i style="left:299.35px;width:135.65px">298</i><i style="left:578.16px;width:137.16px">5</i><i style="left:718.32px;width:137.16px">2</i><i style="left:858.48px;width:137.16px">4</i><i style="left:998.64px;width:137.16px">38</i><i style="left:1138.8px;width:135.3px">45</i><i style="left:1280px;width:136px">2</i></div>
<div class="b" style="left:235px;top:1822.88px;width:58.9px;height:61.64px;overflow:hidden"><svg class="k" style="left:-25px;top:15.12px;width:32px;height:32px;fill:#f07d1a;"><text x="0" y="28.16" font-size="32" font-weight="bold">偶</text></svg></div>
<div class="row" style="top:1884.52px"><i style="left:1px;width:166px">25088</i><i style="left:171px;width:59px">7</i><i style="left:299.35px;width:135.65px">299</i><i style="left:438px;width:137.16px">1</i><i style="left:578.16px;width:137.16px">6</i><i style="left:718.32px;width:137.16px">3</i><i style="left:858.48px;width:137.16px">5</i><i style="left:1138.8px;width:135.3px">46</i><i style="left:1280px;width:136px">3</i></div>
<div class="row" style="top:1946.16px"><i style="left:1px;width:166px">25089</i><i style="left:171px;width:59px">2</i><i style="left:299.35px;width:135.65px">300</i><i style="left:438px;width:137.16px">2</i><i style="left:718.32px;width:137.16px">4</i><i style="left:858.48px;width:137.16px">6</i><i style="left:998.64px;width:137.16px">1</i><i style="left:1138.8px;width:135.3px">47</i></div>
<svg class="k" style="left:1330.35px;top:1961.03px;width:32.5px;height:32.5px;fill:#a25cd2;stroke:#a25cd2;stroke-width:0.26;"><text x="0" y="28.6" font-size="32.5">奇</text></svg>
<div class="row" style="top:2007.8px"><i style="left:1px;width:166px">25090</i><i style="left:171px;width:59px">4</i><i style="left:299.35px;width:135.65px">301</i><i style="left:438px;width:137.16px">3</i><i style="left:578.16px;width:137.16px">1</i><i style="left:858.48px;width:137.16px">7</i><i style="left:998.64px;width:137.16px">2</i><i style="left:1138.8px;width:135.3px">48</i></div>
<svg class="k" style="left:1330.35px;top:2022.67px;width:32.5px;height:32.5px;fill:#a25cd2;stroke:#a25cd2;stroke-width:0.26;"><text x="0" y="28.6" font-size="32.5">奇</text></svg>
<div class="b" style="left:235px;top:2007.8px;width:58.9px;height:61.64px;overflow:hidden"><svg class="k" style="left:-25px;top:15.12px;width:32px;height:32px;fill:#f07d1a;"><text x="0" y="28.16" font-size="32" font-weight="bold">偶</text></svg></div>
<div class="row" style="top:2069.44px"><i style="left:1px;width:166px">25091</i><i style="left:171px;width:59px">7</i><i style="left:299.35px;width:135.65px">302</i><i style="left:438px;width:137.16px">4</i><i style="left:578.16px;width:137.16px">2</i><i style="left:718.32px;width:137.16px">1</i><i style="left:858.48px;width:137.16px">8</i><i style="left:1138.8px;width:135.3px">49</i><i style="left:1280px;width:136px">1</i></div>
<div class="row" style="top:2131.08px"><i style="left:1px;width:166px">25092</i><i style="left:171px;width:59px">2</i><i style="left:299.35px;width:135.65px">303</i><i style="left:438px;width:137.16px">5</i><i style="left:578.16px;width:137.16px">3</i><i style="left:858.48px;width:137.16px">9</i><i style="left:998.64px;width:137.16px">1</i><i style="left:1138.8px;width:135.3px">50</i><i style="left:1280px;width:136px">2</i></div>
<div class="b" style="left:235px;top:2131.08px;width:58.9px;height:61.64px;overflow:hidden"><svg class="k" style="left:-25px;top:15.12px;width:32px;height:32px;fill:#f07d1a;"><text x="0" y="28.16" font-size="32" font-weight="bold">偶</text></svg></div>
<div class="row" style="top:2192.72px"><i style="left:1px;width:166px">25093</i><i style="left:171px;width:59px">4</i><i style="left:299.35px;width:135.65px">304</i><i style="left:438px;width:137.16px">6</i><i style="left:578.16px;width:137.16px">4</i><i style="left:858.48px;width:137.16px">10</i><i style="left:998.64px;width:137.16px">2</i><i style="left:1138.8px;width:135.3px">51</i><i style="left:1280px;width:136px">3</i></div>
<div class="b" style="left:235px;top:2192.72px;width:58.9px;height:61.64px;overflow:hidden"><svg class="k" style="left:-25px;top:15.12px;width:32px;height:32px;fill:#f07d1a;"><text x="0" y="28.16" font-size="32" font-weight="bold">偶</text></svg></div>
<div class="row" style="top:2254.36px"><i style="left:1px;width:166px">25094</i><i style="left:171px;width:59px">7</i><i style="left:299.35px;width:135.65px">305</i><i style="left:438px;width:137.16px">7</i><i style="left:578.16px;width:137.16px">5</i><i style="left:718.32px;width:137.16px">1</i><i style="left:858.48px;width:137.16px">11</i><i style="left:998.64px;width:137.16px">3</i><i style="left:1280px;width:136px">4</i></div>
<svg class="ov" viewBox="0 0 1440 3200"><path d="M646.74 497.62 L506.58 559.26 L786.9 620.9 L927.06 682.54 L786.9 744.18 L927.06 805.82 L786.9 867.46 L927.06 929.1 L786.9 990.74 L646.74 1052.38 L646.74 1114.02 L506.58 1175.66 L786.9 1237.3 L786.9 1298.94 L646.74 1360.58 L786.9 1422.22 L646.74 1483.86 L646.74 1545.5 L927.06 1607.14 L506.58 1668.78 L786.9 1730.42 L506.58 1792.06 L506.58 1853.7 L1067.22 1915.34 L646.74 1976.98 L786.9 2038.62 L1067.22 2100.26 L786.9 2161.9 L786.9 2223.54 L1206.45 2285.18" fill="none" stroke="#7a69fb" stroke-width="5.8" stroke-linejoin="round"/></svg>
<div class="t" style="left:578.16px;top:469px;width:137.16px;height:61.64px;line-height:61.64px;font-size:35.5px;color:#fff;transform:scaleY(1.07)">2<b>:</b>4</div>
<div class="t" style="left:438px;top:530.64px;width:137.16px;height:61.64px;line-height:61.64px;font-size:35.5px;color:#fff;transform:scaleY(1.07)">1<b>:</b>5</div>
<div class="t" style="left:718.32px;top:592.28px;width:137.16px;height:61.64px;line-height:61.64px;font-size:35.5px;color:#fff;transform:scaleY(1.07)">3<b>:</b>3</div>
<div class="t" style="left:858.48px;top:653.92px;width:137.16px;height:61.64px;line-height:61.64px;font-size:35.5px;color:#fff;transform:scaleY(1.07)">4<b>:</b>2</div>
<div class="t" style="left:718.32px;top:715.56px;width:137.16px;height:61.64px;line-height:61.64px;font-size:35.5px;color:#fff;transform:scaleY(1.07)">3<b>:</b>3</div>
<div class="t" style="left:858.48px;top:777.2px;width:137.16px;height:61.64px;line-height:61.64px;font-size:35.5px;color:#fff;transform:scaleY(1.07)">4<b>:</b>2</div>
<div class="t" style="left:718.32px;top:838.84px;width:137.16px;height:61.64px;line-height:61.64px;font-size:35.5px;color:#fff;transform:scaleY(1.07)">3<b>:</b>3</div>
<div class="t" style="left:858.48px;top:900.48px;width:137.16px;height:61.64px;line-height:61.64px;font-size:35.5px;color:#fff;transform:scaleY(1.07)">4<b>:</b>2</div>
<div class="t" style="left:718.32px;top:962.12px;width:137.16px;height:61.64px;line-height:61.64px;font-size:35.5px;color:#fff;transform:scaleY(1.07)">3<b>:</b>3</div>
<div class="t" style="left:578.16px;top:1023.76px;width:137.16px;height:61.64px;line-height:61.64px;font-size:35.5px;color:#fff;transform:scaleY(1.07)">2<b>:</b>4</div>
<div class="t" style="left:578.16px;top:1085.4px;width:137.16px;height:61.64px;line-height:61.64px;font-size:35.5px;color:#fff;transform:scaleY(1.07)">2<b>:</b>4</div>
<div class="t" style="left:438px;top:1147.04px;width:137.16px;height:61.64px;line-height:61.64px;font-size:35.5px;color:#fff;transform:scaleY(1.07)">1<b>:</b>5</div>
<div class="t" style="left:718.32px;top:1208.68px;width:137.16px;height:61.64px;line-height:61.64px;font-size:35.5px;color:#fff;transform:scaleY(1.07)">3<b>:</b>3</div>
<div class="t" style="left:718.32px;top:1270.32px;width:137.16px;height:61.64px;line-height:61.64px;font-size:35.5px;color:#fff;transform:scaleY(1.07)">3<b>:</b>3</div>
<div class="t" style="left:578.16px;top:1331.96px;width:137.16px;height:61.64px;line-height:61.64px;font-size:35.5px;color:#fff;transform:scaleY(1.07)">2<b>:</b>4</div>
<div class="t" style="left:718.32px;top:1393.6px;width:137.16px;height:61.64px;line-height:61.64px;font-size:35.5px;color:#fff;transform:scaleY(1.07)">3<b>:</b>3</div>
<div class="t" style="left:578.16px;top:1455.24px;width:137.16px;height:61.64px;line-height:61.64px;font-size:35.5px;color:#fff;transform:scaleY(1.07)">2<b>:</b>4</div>
<div class="t" style="left:578.16px;top:1516.88px;width:137.16px;height:61.64px;line-height:61.64px;font-size:35.5px;color:#fff;transform:scaleY(1.07)">2<b>:</b>4</div>
<div class="t" style="left:858.48px;top:1578.52px;width:137.16px;height:61.64px;line-height:61.64px;font-size:35.5px;color:#fff;transform:scaleY(1.07)">4<b>:</b>2</div>
<div class="t" style="left:438px;top:1640.16px;width:137.16px;height:61.64px;line-height:61.64px;font-size:35.5px;color:#fff;transform:scaleY(1.07)">1<b>:</b>5</div>
<div class="t" style="left:718.32px;top:1701.8px;width:137.16px;height:61.64px;line-height:61.64px;font-size:35.5px;color:#fff;transform:scaleY(1.07)">3<b>:</b>3</div>
<div class="t" style="left:438px;top:1763.44px;width:137.16px;height:61.64px;line-height:61.64px;font-size:35.5px;color:#fff;transform:scaleY(1.07)">1<b>:</b>5</div>
<div class="t" style="left:438px;top:1825.08px;width:137.16px;height:61.64px;line-height:61.64px;font-size:35.5px;color:#fff;transform:scaleY(1.07)">1<b>:</b>5</div>
<div class="t" style="left:998.64px;top:1886.72px;width:137.16px;height:61.64px;line-height:61.64px;font-size:35.5px;color:#fff;transform:scaleY(1.07)">5<b>:</b>1</div>
<div class="t" style="left:578.16px;top:1948.36px;width:137.16px;height:61.64px;line-height:61.64px;font-size:35.5px;color:#fff;transform:scaleY(1.07)">2<b>:</b>4</div>
<div class="t" style="left:718.32px;top:2010px;width:137.16px;height:61.64px;line-height:61.64px;font-size:35.5px;color:#fff;transform:scaleY(1.07)">3<b>:</b>3</div>
<div class="t" style="left:998.64px;top:2071.64px;width:137.16px;height:61.64px;line-height:61.64px;font-size:35.5px;color:#fff;transform:scaleY(1.07)">5<b>:</b>1</div>
<div class="t" style="left:718.32px;top:2133.28px;width:137.16px;height:61.64px;line-height:61.64px;font-size:35.5px;color:#fff;transform:scaleY(1.07)">3<b>:</b>3</div>
<div class="t" style="left:718.32px;top:2194.92px;width:137.16px;height:61.64px;line-height:61.64px;font-size:35.5px;color:#fff;transform:scaleY(1.07)">3<b>:</b>3</div>
<div class="t" style="left:1138.8px;top:2256.56px;width:135.3px;height:61.64px;line-height:61.64px;font-size:35.5px;color:#fff;transform:scaleY(1.07)">6<b>:</b>0</div>
<div class="b" style="left:53.3px;top:2325.72px;width:36.2px;height:36.2px;border:2.8px solid #f6a2a2;border-radius:50%"></div>
<svg class="k" style="left:110.6px;top:2330.67px;width:65.4px;height:32.5px;fill:#f6a2a2;stroke:#f6a2a2;stroke-width:0.26;"><text x="0" y="28.6" font-size="32.5" letter-spacing="0.4">选号</text></svg>
<div class="row" style="top:2315.8px;height:61.63px;line-height:61.63px;color:#f6a2a2;-webkit-text-stroke:0.3px #f6a2a2"><i style="left:299.35px;width:135.65px">0<b>:</b>6</i><i style="left:438px;width:137.16px">1<b>:</b>5</i><i style="left:578.16px;width:137.16px">2<b>:</b>4</i><i style="left:718.32px;width:137.16px">3<b>:</b>3</i><i style="left:858.48px;width:137.16px">4<b>:</b>2</i><i style="left:998.64px;width:137.16px">5<b>:</b>1</i><i style="left:1138.8px;width:135.3px">6<b>:</b>0</i></div>
<div class="b" style="left:235px;top:2315.8px;width:58.9px;height:61.63px;overflow:hidden"><svg class="k" style="left:-24.8px;top:15.12px;width:32px;height:32px;fill:#f6a2a2;"><text x="0" y="28.16" font-size="32">偶</text></svg></div>
<svg class="k" style="left:1330.35px;top:2330.67px;width:32.5px;height:32.5px;fill:#f6a2a2;stroke:#f6a2a2;stroke-width:0.26;"><text x="0" y="28.6" font-size="32.5">奇</text></svg>
<div class="b" style="left:53.3px;top:2387.35px;width:36.2px;height:36.2px;border:2.8px solid #f6a2a2;border-radius:50%"></div>
<svg class="k" style="left:110.6px;top:2392.3px;width:65.4px;height:32.5px;fill:#f6a2a2;stroke:#f6a2a2;stroke-width:0.26;"><text x="0" y="28.6" font-size="32.5" letter-spacing="0.4">选号</text></svg>
<div class="row" style="top:2377.43px;height:61.63px;line-height:61.63px;color:#f6a2a2;-webkit-text-stroke:0.3px #f6a2a2"><i style="left:299.35px;width:135.65px">0<b>:</b>6</i><i style="left:438px;width:137.16px">1<b>:</b>5</i><i style="left:578.16px;width:137.16px">2<b>:</b>4</i><i style="left:718.32px;width:137.16px">3<b>:</b>3</i><i style="left:858.48px;width:137.16px">4<b>:</b>2</i><i style="left:998.64px;width:137.16px">5<b>:</b>1</i><i style="left:1138.8px;width:135.3px">6<b>:</b>0</i></div>
<div class="b" style="left:235px;top:2377.43px;width:58.9px;height:61.63px;overflow:hidden"><svg class="k" style="left:-24.8px;top:15.12px;width:32px;height:32px;fill:#f6a2a2;"><text x="0" y="28.16" font-size="32">偶</text></svg></div>
<div class="b" style="left:1277.2px;top:2377.8px;width:138.8px;height:61.5px;background:#6083cb;"></div>
<svg class="k" style="left:1330.35px;top:2392.3px;width:32.5px;height:32.5px;fill:#fff;stroke:#fff;stroke-width:0.33;"><text x="0" y="28.6" font-size="32.5">奇</text></svg>
<div class="b" style="left:53.3px;top:2448.98px;width:36.2px;height:36.2px;border:2.8px solid #f6a2a2;border-radius:50%"></div>
<svg class="k" style="left:110.6px;top:2453.93px;width:65.4px;height:32.5px;fill:#f6a2a2;stroke:#f6a2a2;stroke-width:0.26;"><text x="0" y="28.6" font-size="32.5" letter-spacing="0.4">选号</text></svg>
<div class="row" style="top:2439.06px;height:61.63px;line-height:61.63px;color:#f6a2a2;-webkit-text-stroke:0.3px #f6a2a2"><i style="left:299.35px;width:135.65px">0<b>:</b>6</i><i style="left:438px;width:137.16px">1<b>:</b>5</i><i style="left:578.16px;width:137.16px">2<b>:</b>4</i><i style="left:718.32px;width:137.16px">3<b>:</b>3</i><i style="left:858.48px;width:137.16px">4<b>:</b>2</i><i style="left:998.64px;width:137.16px">5<b>:</b>1</i><i style="left:1138.8px;width:135.3px">6<b>:</b>0</i></div>
<div class="b" style="left:235px;top:2439.06px;width:58.9px;height:61.63px;overflow:hidden"><svg class="k" style="left:-24.8px;top:15.12px;width:32px;height:32px;fill:#f6a2a2;"><text x="0" y="28.16" font-size="32">偶</text></svg></div>
<svg class="k" style="left:1330.35px;top:2453.93px;width:32.5px;height:32.5px;fill:#f6a2a2;stroke:#f6a2a2;stroke-width:0.26;"><text x="0" y="28.6" font-size="32.5">奇</text></svg>
<div class="b" style="left:165.2px;top:355.2px;width:5.8px;height:1960.8px;background:#c1c1c1;"></div>
<div class="b" style="left:230.1px;top:355.2px;width:4.9px;height:2145.49px;background:#c1c1c1;"></div>
<div class="b" style="left:293.9px;top:355.2px;width:5.45px;height:2145.49px;background:#c1c1c1;"></div>
<div class="b" style="left:1274.1px;top:355.2px;width:5.9px;height:2145.49px;background:#c1c1c1;"></div>
<div class="b" style="left:1439px;top:355.2px;width:1px;height:2145.49px;background:#fff;"></div>
<svg class="ov" viewBox="0 0 1440 3200"><path d="M926.8 1610.5 L936.17 2265.3" stroke="#ff4080" stroke-width="6.8" stroke-linecap="round" fill="none"/><path d="M936.6 2295.3 L902.28 2238.29 L936.14 2263.3 L969.27 2237.33 Z" fill="#ff4080"/><path d="M1204 2285.4 L957.33 2338.31" stroke="#ff4080" stroke-width="6.8" stroke-linecap="round" fill="none"/><path d="M928 2344.6 L977.2 2299.79 L959.29 2337.89 L991.25 2365.3 Z" fill="#ff4080"/></svg>
<!-- buttons -->
<div class="b" style="left:27.7px;top:2519px;width:202.2px;height:91px;background:#f2f3f5;border-radius:45.5px;"></div>
<svg class="k" style="left:46px;top:2542.9px;width:165.6px;height:40.8px;fill:#979797;stroke:#979797;stroke-width:0.37;"><text x="0" y="35.9" font-size="40.8" letter-spacing="0.8">添加预选</text></svg>
<div class="b" style="left:287px;top:2519px;width:153.8px;height:91px;background:#f2f3f5;border-radius:45.5px;"></div>
<svg class="k" style="left:322.7px;top:2542.9px;width:82.4px;height:40.8px;fill:#979797;stroke:#979797;stroke-width:0.37;"><text x="0" y="35.9" font-size="40.8" letter-spacing="0.8">删除</text></svg>
<div class="b" style="left:497.8px;top:2519px;width:154px;height:91px;background:#f2f3f5;border-radius:45.5px;"></div>
<svg class="k" style="left:533.6px;top:2542.9px;width:82.4px;height:40.8px;fill:#979797;stroke:#979797;stroke-width:0.37;"><text x="0" y="35.9" font-size="40.8" letter-spacing="0.8">上移</text></svg>
<div class="b" style="left:709px;top:2519px;width:153.8px;height:91px;background:#f2f3f5;border-radius:45.5px;"></div>
<svg class="k" style="left:744.7px;top:2542.9px;width:82.4px;height:40.8px;fill:#979797;stroke:#979797;stroke-width:0.37;"><text x="0" y="35.9" font-size="40.8" letter-spacing="0.8">下移</text></svg>
<div class="b" style="left:918.7px;top:2519px;width:154.2px;height:91px;background:#f2f3f5;border-radius:45.5px;"></div>
<svg class="k" style="left:942.1px;top:2542.9px;width:82.4px;height:40.8px;fill:#979797;stroke:#979797;stroke-width:0.37;"><text x="0" y="35.9" font-size="40.8" letter-spacing="0.8">画布</text></svg>
<div class="b" style="left:1028px;top:2562px;width:20px;height:3.6px;background:#979797;"></div>
<div class="b" style="left:1036.2px;top:2553.8px;width:3.6px;height:20px;background:#979797;"></div>
<div class="b" style="left:1129.8px;top:2519px;width:154.2px;height:91px;background:#f2f3f5;border-radius:45.5px;"></div>
<svg class="k" style="left:1165.7px;top:2542.9px;width:82.4px;height:40.8px;fill:#979797;stroke:#979797;stroke-width:0.37;"><text x="0" y="35.9" font-size="40.8" letter-spacing="0.8">清空</text></svg>
<div class="b" style="left:1312.8px;top:2519px;width:200px;height:97.5px;background:#cbcbcb;border-radius:49px;"></div>
<svg class="k" style="left:1334px;top:2545.9px;width:82.4px;height:40.8px;fill:#fff;stroke:#fff;stroke-width:0.33;"><text x="0" y="35.9" font-size="40.8" font-weight="500" letter-spacing="0.8">收起</text></svg>
<!-- clipped second header -->
<div class="b" style="left:0;top:2627px;width:1440px;height:34.6px;overflow:hidden"><div class="b" style="left:0px;top:0px;width:1440px;height:112px;background:#e9e9e9;"></div><div class="b" style="left:165.2px;top:0px;width:5.8px;height:112px;background:#c1c1c1;"></div><div class="b" style="left:230.1px;top:0px;width:4.9px;height:112px;background:#c1c1c1;"></div><div class="b" style="left:293.9px;top:0px;width:5.45px;height:112px;background:#c1c1c1;"></div><div class="b" style="left:1274.1px;top:0px;width:5.9px;height:112px;background:#c1c1c1;"></div><svg class="k" style="left:184.5px;top:13.8px;width:32px;height:32px;fill:#646464;"><text x="0" y="28.16" font-size="32">星</text></svg><svg class="k" style="left:738.4px;top:12.1px;width:97.2px;height:32px;fill:#646464;"><text x="0" y="28.16" font-size="32" letter-spacing="0.6">奇偶比</text></svg><svg class="k" style="left:1384.5px;top:12.1px;width:64.6px;height:32px;fill:#646464;"><text x="0" y="28.16" font-size="32" letter-spacing="0.6">蓝球</text></svg></div>
<div class="b" style="left:1439px;top:2500px;width:1px;height:162px;background:#fff;"></div>
<!-- toolbar -->
<div class="b" style="left:0px;top:2661.2px;width:1440px;height:2.2px;background:#d4d4d4;"></div>
<div class="b" style="left:0px;top:2663.4px;width:1440px;height:536.6px;background:#fff;"></div>
<div class="b" style="left:35.3px;top:2689px;width:97.4px;height:97.4px;border:2.3px solid #d94d4d;border-radius:12.5px;box-sizing:border-box;background:#fff"></div>
<div class="b" style="left:194.2px;top:2689px;width:97.4px;height:97.4px;border:2.2px solid #d9d9d9;border-radius:12.5px;box-sizing:border-box;background:#fff"></div>
<div class="b" style="left:353.6px;top:2689px;width:97.4px;height:97.4px;border:2.2px solid #d9d9d9;border-radius:12.5px;box-sizing:border-box;background:#fff"></div>
<div class="b" style="left:512.6px;top:2689px;width:97.4px;height:97.4px;border:2.2px solid #d9d9d9;border-radius:12.5px;box-sizing:border-box;background:#fff"></div>
<div class="b" style="left:671.6px;top:2689px;width:97.4px;height:97.4px;border:2.2px solid #d9d9d9;border-radius:12.5px;box-sizing:border-box;background:#fff"></div>
<div class="b" style="left:830.6px;top:2689px;width:97.4px;height:97.4px;border:2.2px solid #d9d9d9;border-radius:12.5px;box-sizing:border-box;background:#fff"></div>
<svg class="ov" viewBox="0 0 1440 3200"><g fill="none" stroke="#303030" stroke-width="4.2" stroke-linecap="round" stroke-linejoin="round"><path d="M107 2761.1 L61.6 2714.9 M92.5 2714.9 H61.6 V2743.7"/><path d="M221.3 2758.2 L264.3 2715.6" stroke-width="3.9"/><circle cx="221.3" cy="2758.2" r="3" fill="#303030" stroke-width="3"/><circle cx="264.3" cy="2715.6" r="3" fill="#303030" stroke-width="3"/><path d="M411.4 2714.7 C405 2722 389 2728 388 2735.5 C387 2743 412 2731 419 2737.5 C425 2746 408 2757 394 2761.9" stroke-width="3.6"/><circle cx="411.4" cy="2714.7" r="2.6" fill="#303030" stroke-width="3"/><circle cx="394" cy="2761.9" r="2.6" fill="#303030" stroke-width="3"/><rect x="537.7" y="2717.7" width="46.8" height="38.9" stroke-linejoin="miter" stroke-width="4.1"/><circle cx="719.9" cy="2737.1" r="24.5" stroke-width="4"/><path d="M856.8 2714.9 H901 M878.2 2714.9 V2760.8"/><path d="M1027.1 2716.6 L1013.2 2731.3 L1027.1 2746.4 M1013.6 2731.3 H1043 C1056 2731.3 1062.5 2741 1062.5 2757.6"/><path d="M1201.5 2713.6 Q1204.3 2711.2 1207 2713.8 L1221.3 2727.5 Q1223.9 2730.2 1221.2 2732.6 L1191.8 2758.6 Q1188.8 2761.1 1186 2758.6 L1172.5 2746.6 Q1169.8 2744.2 1172.6 2741.7 Z" stroke-width="4"/><path d="M1179 2736 L1198.3 2754.4 M1188.5 2761 H1220.8" stroke-width="4"/><g stroke-width="3.6"><path d="M1331.57 2734.48 L1358.72 2761.63 L1378.23 2742.12 L1367.77 2731.65 L1379.93 2719.49 L1373.71 2713.27 L1361.55 2725.43 L1351.08 2714.97 Z"/><path d="M1343.59 2722.46 L1370.74 2749.61"/><path d="M1338 2740.92 L1342.1 2736.82"/><path d="M1345 2747.92 L1349.1 2743.82"/><path d="M1351.93 2754.85 L1356.03 2750.75"/></g></g></svg>
<div class="b" style="left:0px;top:2814.8px;width:1440px;height:2.2px;background:#dcdcdc;"></div>
<div class="b" style="left:53.1px;top:2842.9px;width:97.8px;height:97.8px;border-radius:50%;background:#ff4785;border:3.4px solid #2c2c2c;box-sizing:border-box"></div>
<div class="b" style="left:199.6px;top:2856.7px;width:70.4px;height:70.4px;border-radius:50%;background:#ff7a05"></div>
<div class="b" style="left:332.6px;top:2856.7px;width:70.4px;height:70.4px;border-radius:50%;background:#0566cc"></div>
<div class="b" style="left:465.5px;top:2856.7px;width:70.4px;height:70.4px;border-radius:50%;background:#1ad093"></div>
<div class="b" style="left:598.5px;top:2856.7px;width:70.4px;height:70.4px;border-radius:50%;background:#9315ee"></div>
<svg class="k" style="left:1094.2px;top:2872.5px;width:149.8px;height:37px;fill:#989898;stroke:#989898;stroke-width:0.3;"><text x="0" y="32.56" font-size="37" letter-spacing="0.6">球心吸附</text></svg>
<div class="b" style="left:1258px;top:2851.6px;width:147.3px;height:80.2px;background:#f84c4c;border-radius:41px;"></div>
<div class="b" style="left:1332.4px;top:2857.5px;width:67.2px;height:67.2px;background:#fff;border-radius:50%;"></div>
<div class="b" style="left:0px;top:2967.6px;width:1440px;height:2.2px;background:#dcdcdc;"></div>
<div class="t" style="left:157.8px;top:3029.94px;font-size:53px;line-height:53px;color:#303030;">30</div>
<svg class="k" style="left:219.3px;top:3032.15px;width:47.5px;height:47.5px;fill:#303030;stroke:#303030;stroke-width:0.38;"><text x="0" y="41.8" font-size="47.5">期</text></svg>
<svg class="ov" viewBox="0 0 1440 3200"><path d="M284.4 3050.3 L301.4 3066 L318.4 3050.3" fill="none" stroke="#505050" stroke-width="2.4" stroke-linecap="round" stroke-linejoin="round"/></svg>
<div class="b" style="left:479.8px;top:3033px;width:2px;height:46px;background:#dadada;"></div>
<div class="b" style="left:959.6px;top:3033px;width:2px;height:46px;background:#dadada;"></div>
<svg class="k" style="left:622.9px;top:3030.85px;width:193.8px;height:49.5px;fill:#ee4343;stroke:#ee4343;stroke-width:0.79;"><text x="0" y="43.56" font-size="49.5" letter-spacing="-1.4">关闭画线</text></svg>
<svg class="k" style="left:1102.6px;top:3030.85px;width:194.4px;height:49.5px;fill:#ee4343;stroke:#ee4343;stroke-width:0.79;"><text x="0" y="43.56" font-size="49.5" letter-spacing="-1.2">本期分析</text></svg>
<div class="b" style="left:454.5px;top:3165.8px;width:531px;height:10.6px;background:#666;border-radius:5.3px;"></div>
</div>
</body></html>
